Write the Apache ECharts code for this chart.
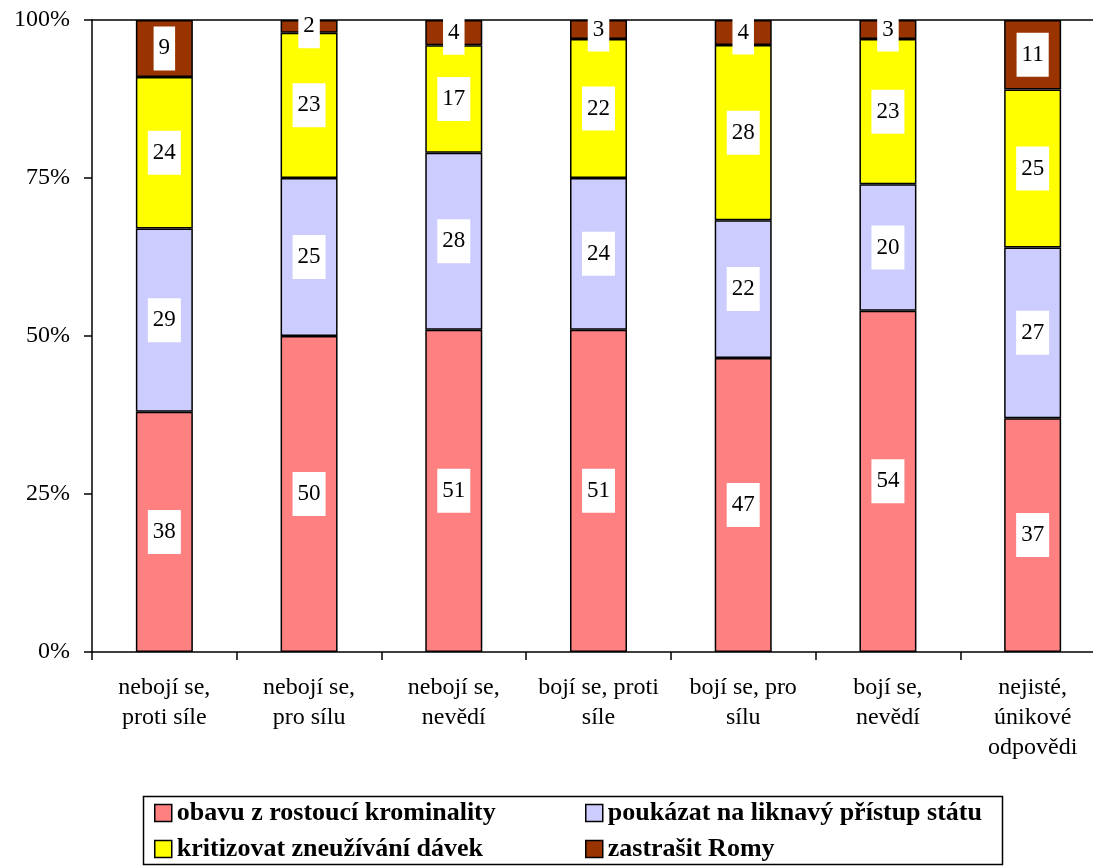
<!DOCTYPE html>
<html><head><meta charset="utf-8">
<script src="https://cdn.jsdelivr.net/npm/echarts@6/dist/echarts.min.js"></script>
<style>html,body{margin:0;padding:0;background:#fff}#c{width:1093px;height:867px}</style>
</head><body><div id="c"></div>
<script>
var categories = ["nebojí se,\nproti síle","nebojí se,\npro sílu","nebojí se,\nnevědí","bojí se, proti\nsíle","bojí se, pro\nsílu","bojí se,\nnevědí","nejisté,\núnikové\nodpovědi"];
var seriesNames = ["obavu z rostoucí krominality","poukázat na liknavý přístup státu","kritizovat zneužívání dávek","zastrašit Romy"];
var obavu = [38,50,51,51,47,54,37];
var poukazat = [29,25,28,24,22,20,27];
var kritizovat = [24,23,17,22,28,23,25];
var zastrasit = [9,2,4,3,4,3,11];
var yTicks = ["0%","25%","50%","75%","100%"];
var colors = ["#FF8080","#CCCCFF","#FFFF00","#993300"];
var raw = [obavu,poukazat,kritizovat,zastrasit];
var totals = categories.map(function(_,i){return obavu[i]+poukazat[i]+kritizovat[i]+zastrasit[i];});
var FONT = "Liberation Serif";
var series = raw.map(function(arr,k){
  return {
    name: seriesNames[k], type:'bar', stack:'s', barWidth:57, xAxisIndex:0,
    data: arr.map(function(v,i){return v/totals[i]*100;}),
    itemStyle:{color:colors[k], borderColor:'#000', borderWidth:1.5},
    label:{show:true, position:'inside', fontFamily:FONT, fontSize:23, color:'#000',
      backgroundColor:'#fff', padding:[10,5,10,5], lineHeight:24,
      formatter:function(p){return String(arr[p.dataIndex]);}}
  };
});
var legendCommon = {
  orient:'vertical', icon:'rect', itemWidth:17, itemHeight:17, itemGap:10, itemTextGap:6,
  textStyle:{fontFamily:FONT, fontSize:26, fontWeight:'bold', color:'#000'},
  itemStyle:{borderColor:'#000', borderWidth:1.5}, padding:0
};
var chart = echarts.init(document.getElementById('c'));
chart.setOption({
  animation:false,
  grid:{left:92, width:1013, top:20, height:632, containLabel:false, outerBoundsMode:'none'},
  xAxis:[{type:'category', data:categories,
    axisLine:{lineStyle:{color:'#000', width:1.5}},
    axisTick:{show:true, length:8, lineStyle:{color:'#000', width:1.5}},
    axisLabel:{fontFamily:FONT, fontSize:24, color:'#000', margin:21, lineHeight:30, interval:0}},
   {type:'category', data:categories, position:'top',
    axisLine:{show:true, lineStyle:{color:'#000', width:1.5}},
    axisTick:{show:false}, axisLabel:{show:false}}],
  yAxis:{type:'value', min:0, max:100, interval:25,
    axisLine:{show:true, lineStyle:{color:'#000', width:1.5}},
    axisTick:{show:true, length:8, lineStyle:{color:'#000', width:1.5}},
    splitLine:{show:false},
    axisLabel:{fontFamily:FONT, fontSize:24, color:'#000', margin:22,
      formatter:function(v){return yTicks[v/25];}}},
  legend:[
    Object.assign({left:154, top:800, data:[seriesNames[0],seriesNames[2]]}, legendCommon),
    Object.assign({left:585, top:800, data:[seriesNames[1],seriesNames[3]]}, legendCommon)
  ],
  graphic:[{type:'rect', left:141, top:794, shape:{width:859, height:68},
    style:{fill:'none', stroke:'#000', lineWidth:1.5}, silent:true}],
  series:series
});
</script></body></html>
